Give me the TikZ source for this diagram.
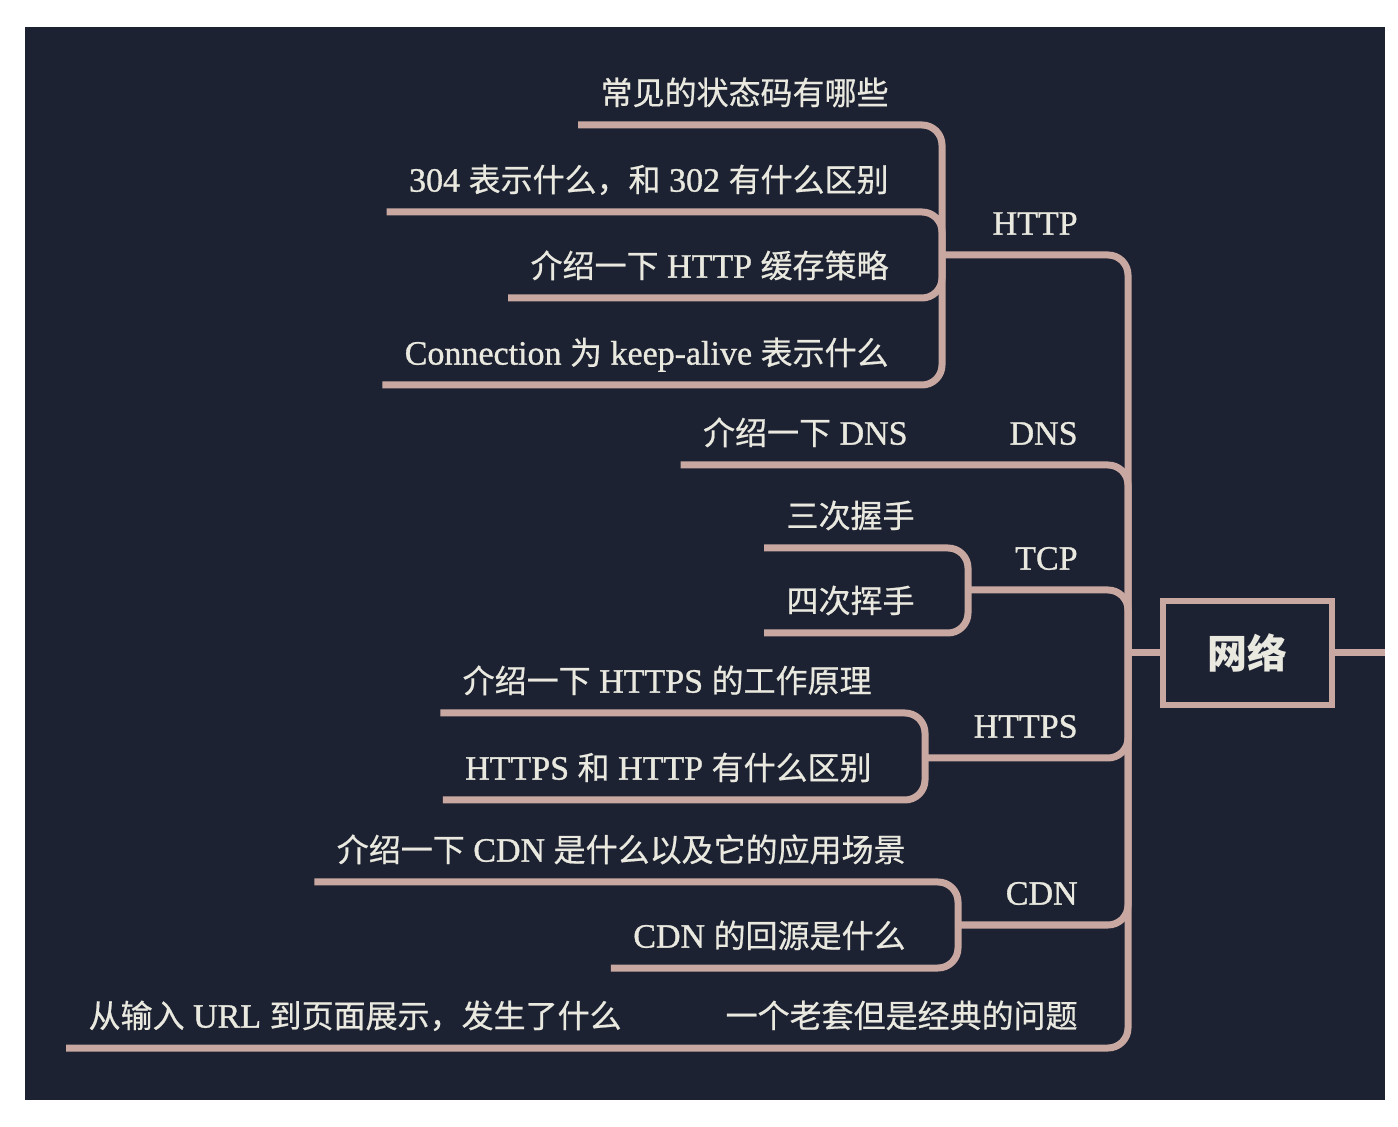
\documentclass[tikz,border=0pt]{standalone}
\usepackage{fontspec}
\setmainfont{Liberation Serif}[FakeBold=1]
\newfontfamily\cjk{Noto Sans CJK SC}[FakeBold=0.6]
\newfontfamily\cjkroot{Noto Sans CJK SC}
\newcommand\zh[1]{{\fontsize{16}{20}\selectfont\cjk #1}}
\definecolor{bgnavy}{HTML}{1D2233}
\definecolor{linkpink}{HTML}{C9A8A1}
\definecolor{txtwhite}{HTML}{E9E9DF}
\tikzset{
  link/.style={draw=linkpink, line width=3.5pt, rounded corners=10pt},
  leaf/.style={anchor=south east, inner xsep=11pt, inner ysep=10pt, text depth=0pt,
    text=txtwhite, font=\fontsize{17}{20}\selectfont},
  rootbox/.style={draw=linkpink, line width=3pt, minimum width=84.5pt, minimum height=52pt,
    inner sep=0pt, text=txtwhite, font=\fontsize{20}{24}\selectfont\cjkroot\bfseries}
}
\begin{document}
\begin{tikzpicture}[x=0.5pt,y=-0.5pt]
\path[use as bounding box, fill=white] (0,0) rectangle (1398,1127);
\fill[bgnavy] (25,27) rectangle (1385,1100);

\node[rootbox] (net) at (1247.5,653) {网络};
\coordinate (tr) at (1128,653);
\coordinate (edge) at (1385,653);

\node[leaf] (http) at (1100,255) {HTTP};
\node[leaf] (dns) at (1100,465) {DNS};
\node[leaf] (tcp) at (1100,590) {TCP};
\node[leaf] (https) at (1100,758) {HTTPS};
\node[leaf] (cdn) at (1100,925) {CDN};
\node[leaf] (old) at (1100,1048) {\zh{一个老套但是经典的问题}};

\coordinate (httpj) at (942,255);
\coordinate (tcpj) at (968,590);
\coordinate (httpsj) at (925,758);
\coordinate (cdnj) at (958,925);

\node[leaf] (code) at (911,125) {\zh{常见的状态码有哪些}};
\node[leaf] (cmp) at (911,212) {304 \zh{表示什么，和} 302 \zh{有什么区别}};
\node[leaf] (cache) at (911,298) {\zh{介绍一下} HTTP \zh{缓存策略}};
\node[leaf] (alive) at (911,385) {Connection \zh{为} keep-alive \zh{表示什么}};
\node[leaf] (dnsq) at (930,465) {\zh{介绍一下} DNS};
\node[leaf] (shake) at (937,548) {\zh{三次握手}};
\node[leaf] (wave) at (937,633) {\zh{四次挥手}};
\node[leaf] (work) at (894,713) {\zh{介绍一下} HTTPS \zh{的工作原理}};
\node[leaf] (diff) at (894,800) {HTTPS \zh{和} HTTP \zh{有什么区别}};
\node[leaf] (cdnq) at (928,882) {\zh{介绍一下} CDN \zh{是什么以及它的应用场景}};
\node[leaf] (back) at (928,968) {CDN \zh{的回源是什么}};
\node[leaf] (url) at (644,1048) {\zh{从输入} URL \zh{到页面展示，发生了什么}};

\draw[link] (net.east) -- (edge);
\draw[link] (net.west) -- (tr);
\draw[link] (tr) |- (httpj);
\draw[link] (tr) |- (dnsq.south west);
\draw[link] (tr) |- (tcpj);
\draw[link] (tr) |- (httpsj);
\draw[link] (tr) |- (cdnj);
\draw[link] (tr) |- (url.south west);

\draw[link] (httpj) |- (code.south west);
\draw[link] (httpj) |- (cmp.south west);
\draw[link] (httpj) |- (cache.south west);
\draw[link] (httpj) |- (alive.south west);
\draw[link] (tcpj) |- (shake.south west);
\draw[link] (tcpj) |- (wave.south west);
\draw[link] (httpsj) |- (work.south west);
\draw[link] (httpsj) |- (diff.south west);
\draw[link] (cdnj) |- (cdnq.south west);
\draw[link] (cdnj) |- (back.south west);
\end{tikzpicture}
\end{document}
